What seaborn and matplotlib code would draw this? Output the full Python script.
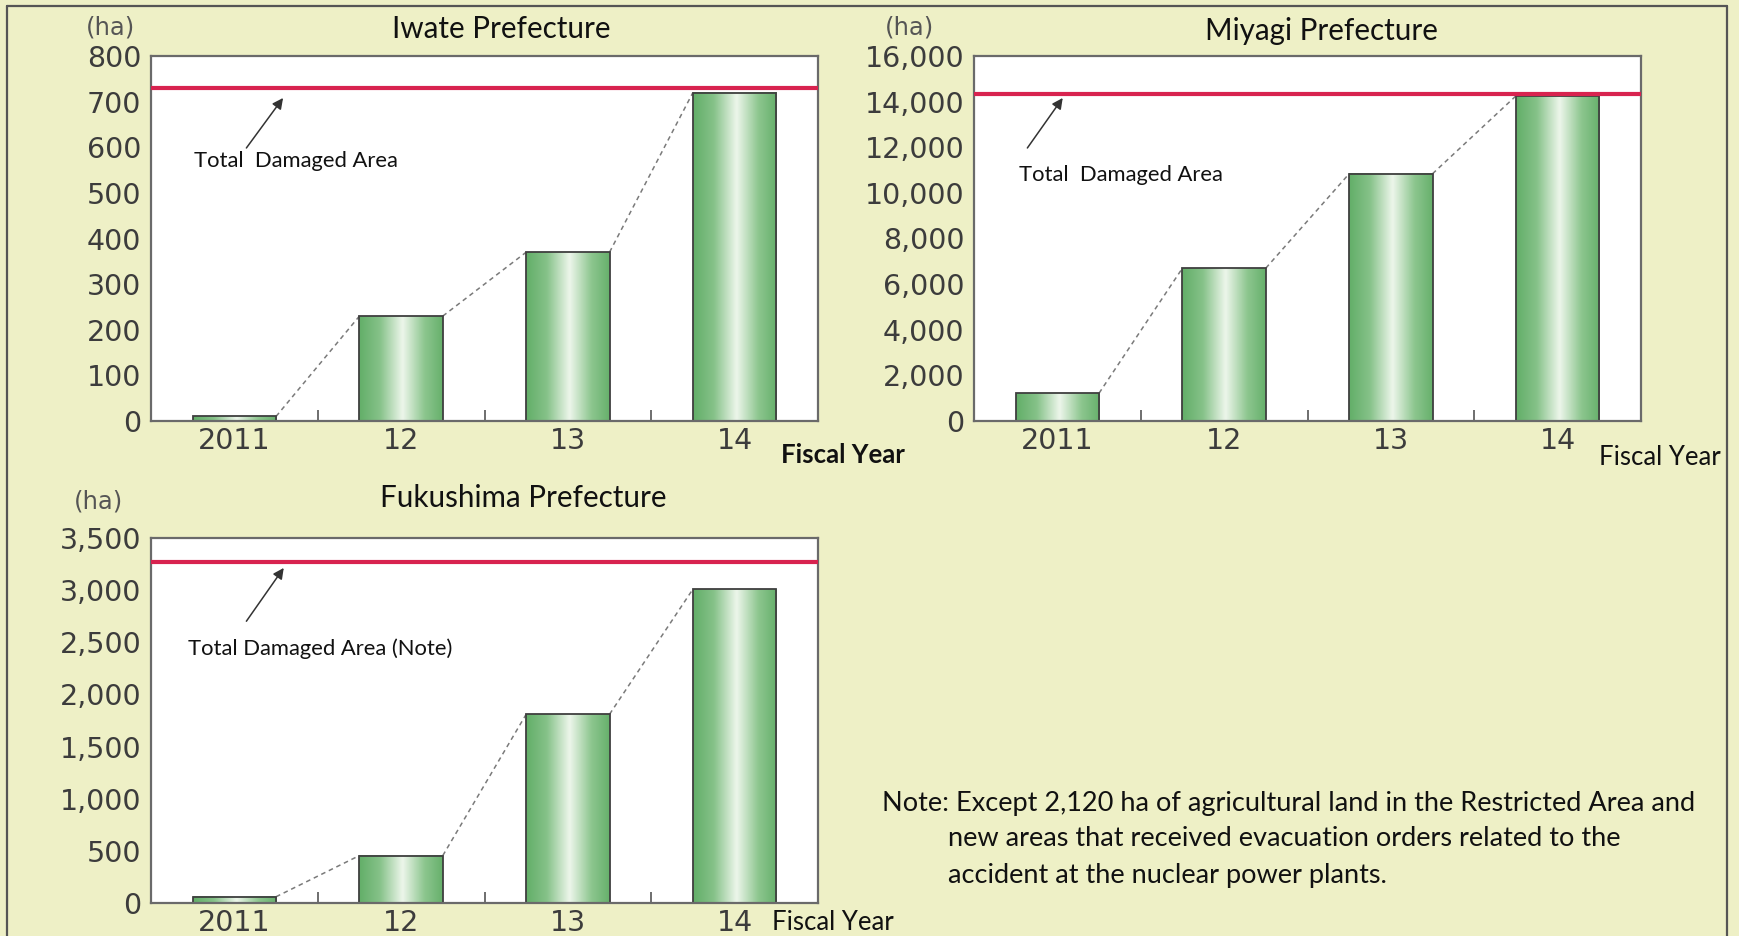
import numpy as np
import matplotlib
matplotlib.use("Agg")
import matplotlib.pyplot as plt
from matplotlib.colors import LinearSegmentedColormap
from matplotlib.ticker import FuncFormatter, FixedLocator
from matplotlib.lines import Line2D
import seaborn as sns

# ---------------- data ----------------
years = ["2011", "12", "13", "14"]
iwate_values = [10, 230, 370, 720]
iwate_total = 729
miyagi_values = [1220, 6700, 10840, 14250]
miyagi_total = 14350
fukushima_values = [60, 455, 1810, 3010]
fukushima_total = 3270

iwate_yticks = [0, 100, 200, 300, 400, 500, 600, 700, 800]
miyagi_yticks = [0, 2000, 4000, 6000, 8000, 10000, 12000, 14000, 16000]
fukushima_yticks = [0, 500, 1000, 1500, 2000, 2500, 3000, 3500]

titles = ["Iwate Prefecture", "Miyagi Prefecture", "Fukushima Prefecture"]
annot_texts = ["Total  Damaged Area", "Total  Damaged Area", "Total Damaged Area (Note)"]
note_lines = ["Note: Except 2,120 ha of agricultural land in the Restricted Area and",
              "new areas that received evacuation orders related to the",
              "accident at the nuclear power plants."]

# ---------------- style ----------------
W, H = 1739, 936
BG = "#EEF0C6"
TICK_COLOR = "#3c3c3c"
TEXT_FONT = ["Lato", "DejaVu Sans"]
NUM_FONT = ["DejaVu Sans"]

sns.set_style("white")
plt.rcParams["font.family"] = ["DejaVu Sans"]

fig = plt.figure(figsize=(W / 100, H / 100), dpi=100, facecolor=BG)


def fx(px):
    return px / W


def fy(py):
    return 1 - py / H


def add_axes_px(left, top, right, bottom):
    return fig.add_axes([fx(left), fy(bottom), (right - left) / W, (bottom - top) / H])


cmap = LinearSegmentedColormap.from_list(
    "bar", [(0.0, "#62AE68"), (0.25, "#86C289"), (0.52, "#EDF6EB"),
            (0.78, "#8DC68F"), (1.0, "#66B06B")])
grad = np.linspace(0, 1, 256).reshape(1, -1)


def draw_panel(ax, values, total, yticks, annot, arrow_tail, arrow_head, text_pos):
    sns.barplot(x=years, y=values, ax=ax, width=0.5, color="#7BBE7E",
                saturation=1, edgecolor="#3f3f3f", linewidth=1.3)
    ymax = yticks[-1]
    patches = list(ax.patches)
    for p in patches:
        x0, y0 = p.get_x(), p.get_y()
        w, h = p.get_width(), p.get_height()
        ax.imshow(grad, extent=[x0, x0 + w, y0, y0 + h], aspect="auto",
                  cmap=cmap, zorder=1.5, interpolation="bicubic")
        p.set_facecolor("none")
        p.set_zorder(2)
    # dashed connectors
    for a, b in zip(patches[:-1], patches[1:]):
        ax.plot([a.get_x() + a.get_width(), b.get_x()],
                [a.get_height(), b.get_height()],
                color="#7a7a7a", lw=1.1, ls=(0, (3, 2.5)), zorder=1.8)
    ax.axhline(total, color="#D8234F", lw=3, zorder=3)
    ax.set_xlim(-0.5, len(years) - 0.5)
    ax.set_ylim(0, ymax)
    ax.set_facecolor("white")
    ax.set_yticks(yticks)
    ax.yaxis.set_major_formatter(FuncFormatter(lambda v, _: f"{int(v):,}"))
    ax.tick_params(axis="y", direction="in", length=6, width=1.2, color="#555",
                   labelsize=20.5, labelcolor=TICK_COLOR, pad=7)
    ax.tick_params(axis="x", which="major", length=0, labelsize=20.5,
                   labelcolor=TICK_COLOR, pad=4.5)
    ax.xaxis.set_minor_locator(FixedLocator([0.5, 1.5, 2.5]))
    ax.tick_params(axis="x", which="minor", direction="in", length=8, width=1.2,
                   color="#555", bottom=True)
    for lab in ax.get_xticklabels() + ax.get_yticklabels():
        lab.set_family(NUM_FONT)
    for s in ax.spines.values():
        s.set_visible(True)
        s.set_color("#6a6a6a")
        s.set_linewidth(1.6)
    ax.set_xlabel("")
    ax.set_ylabel("")
    ax.annotate("", xy=arrow_head, xytext=arrow_tail, xycoords="axes fraction",
                textcoords="axes fraction",
                arrowprops=dict(arrowstyle="-|>", color="#333333", lw=1.1,
                                mutation_scale=16, shrinkA=0, shrinkB=0), zorder=4)
    ax.text(text_pos[0], text_pos[1], annot, transform=ax.transAxes,
            ha="left", va="center", fontsize=15.8, family=TEXT_FONT, color="#111111")


ax1 = add_axes_px(151, 56, 818, 421)
draw_panel(ax1, iwate_values, iwate_total, iwate_yticks, annot_texts[0],
           (0.143, 0.748), (0.198, 0.885), (0.065, 0.712))

ax2 = add_axes_px(974, 56, 1641, 421)
draw_panel(ax2, miyagi_values, miyagi_total, miyagi_yticks, annot_texts[1],
           (0.080, 0.748), (0.133, 0.885), (0.068, 0.673))

ax3 = add_axes_px(151, 538, 818, 903)
draw_panel(ax3, fukushima_values, fukushima_total, fukushima_yticks, annot_texts[2],
           (0.143, 0.772), (0.199, 0.918), (0.056, 0.696))

# titles
TITLE_SIZE = 21.3
fig.text(fx(501), fy(29), titles[0], ha="center", va="center", fontsize=TITLE_SIZE,
         family=TEXT_FONT, color="#111111")
fig.text(fx(1321), fy(31), titles[1], ha="center", va="center", fontsize=TITLE_SIZE,
         family=TEXT_FONT, color="#111111")
fig.text(fx(523), fy(498), titles[2], ha="center", va="center", fontsize=TITLE_SIZE,
         family=TEXT_FONT, color="#111111")

# unit labels
for xp, yp in [(111, 27), (910, 27), (98, 501)]:
    fig.text(fx(xp), fy(yp), "(ha)", ha="center", va="center", fontsize=17.5,
             family=NUM_FONT, color="#555555")

# fiscal year labels
fig.text(fx(781), fy(455), "Fiscal Year", ha="left", va="center", fontsize=18.5,
         family=TEXT_FONT, fontweight="bold", color="#111111")
fig.text(fx(1599), fy(457), "Fiscal Year", ha="left", va="center", fontsize=18.5,
         family=TEXT_FONT, color="#111111")
fig.text(fx(772), fy(922), "Fiscal Year", ha="left", va="center", fontsize=18.5,
         family=TEXT_FONT, color="#111111")

# note
NOTE_SIZE = 19.5
fig.text(fx(882), fy(804), note_lines[0], ha="left", va="center", fontsize=NOTE_SIZE,
         family=TEXT_FONT, color="#111111")
fig.text(fx(948), fy(839), note_lines[1], ha="left", va="center", fontsize=NOTE_SIZE,
         family=TEXT_FONT, color="#111111")
fig.text(fx(948), fy(875), note_lines[2], ha="left", va="center", fontsize=NOTE_SIZE,
         family=TEXT_FONT, color="#111111")

# figure frame
frame_kw = dict(color="#555555", lw=1.6, transform=fig.transFigure)
fig.add_artist(Line2D([fx(7), fx(7)], [fy(6), 0], **frame_kw))
fig.add_artist(Line2D([fx(7), fx(1727)], [fy(6), fy(6)], **frame_kw))
fig.add_artist(Line2D([fx(1727), fx(1727)], [fy(6), 0], **frame_kw))

fig.savefig("out.png", dpi=100, facecolor=BG)
